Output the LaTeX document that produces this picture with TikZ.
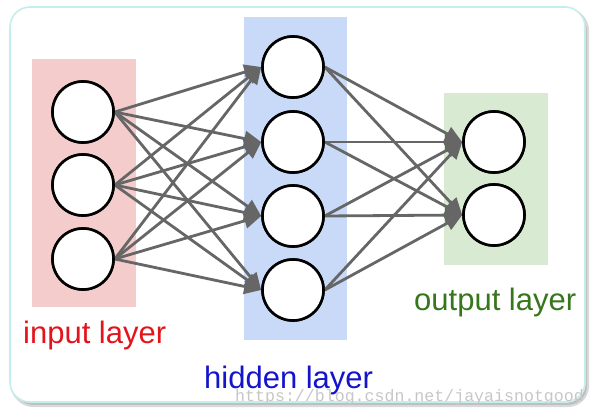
\documentclass[tikz,border=0pt]{standalone}
\usepackage{fontspec}
\setmainfont{Liberation Sans}
\newfontfamily\wmfont{Liberation Mono}
\usetikzlibrary{arrows.meta}
\definecolor{boxred}{HTML}{F4CCCC}
\definecolor{boxblue}{HTML}{C9DAF8}
\definecolor{boxgreen}{HTML}{D9EAD3}
\definecolor{txtred}{HTML}{E4141C}
\definecolor{txtblue}{HTML}{1414CC}
\definecolor{txtgreen}{HTML}{38761D}
\definecolor{edgegray}{HTML}{666666}
\definecolor{framecyan}{HTML}{C4EEEE}
\begin{document}
\begin{tikzpicture}[x=1pt,y=-1pt,
  neuron/.style={circle,draw=black,fill=white,line width=2.6pt,minimum size=61pt,inner sep=0pt},
  conn/.style={draw=edgegray,line width=2.8pt,-{Triangle[length=17pt,width=15pt]}},
  lbl/.style={anchor=base west,inner sep=0pt,font=\fontsize{31}{31}\selectfont}]
\useasboundingbox (0,0) rectangle (597,417);
\fill[white] (0,0) rectangle (597,417);
% shadow and frame
\draw[black!25,line width=3pt,rounded corners=20pt] (12,10) rectangle (587,404);
\draw[black!15,line width=2pt,rounded corners=20pt] (13,11) rectangle (588,406);
\draw[framecyan,fill=white,line width=1.6pt,rounded corners=20pt] (10,7) rectangle (585,402);
% layer boxes
\fill[boxred] (32,59) rectangle (136,307);
\fill[boxblue] (244,17) rectangle (347,340);
\fill[boxgreen] (444,93) rectangle (548,265);
% neurons
\node[neuron] (i1) at (83,112) {};
\node[neuron] (i2) at (83,185) {};
\node[neuron] (i3) at (83,259) {};
\node[neuron] (h1) at (293,67) {};
\node[neuron] (h2) at (293,142) {};
\node[neuron] (h3) at (293,216) {};
\node[neuron] (h4) at (293,290) {};
\node[neuron] (o1) at (494,142) {};
\node[neuron] (o2) at (494,215) {};
% connections
\foreach \s in {i1,i2,i3}
  \foreach \t in {h1,h2,h3,h4}
    \draw[conn] (\s.east) -- (\t.west);
\foreach \s in {h1,h2,h3,h4}
  \foreach \t in {o1,o2}
    \draw[conn] (\s.east) -- (\t.west);
% redraw neurons on top
\foreach \n in {i1,i2,i3,h1,h2,h3,h4,o1,o2}
  \draw[black,fill=white,line width=2.6pt] (\n) circle (30.5pt);
% labels
\node[lbl,text=txtred] (li) at (23,343) {input layer};
\node[lbl,text=txtblue] (lh) at (204,388) {hidden layer};
\node[lbl,text=txtgreen] (lo) at (414,310) {output layer};
% watermark
\node[anchor=base west,inner sep=0pt,text=black!22,font=\wmfont\fontsize{16.6}{16.6}\selectfont] (wm) at (235,401) {https://blog.csdn.net/jayaisnotgood};
\end{tikzpicture}
\end{document}
